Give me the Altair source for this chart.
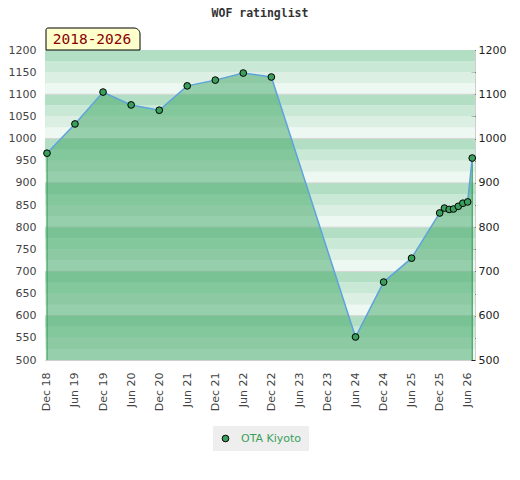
import altair as alt
import pandas as pd

title_text = "WOF ratinglist"
badge_text = "2018-2026"
player = "OTA Kiyoto"

dates = ["2018-12-01", "2019-06-01", "2019-12-01", "2020-06-01", "2020-12-01",
         "2021-06-01", "2021-12-01", "2022-06-01", "2022-12-01", "2024-06-01",
         "2024-12-01", "2025-06-01", "2025-12-01", "2026-01-01", "2026-02-01",
         "2026-03-01", "2026-04-01", "2026-05-01", "2026-06-01", "2026-07-01"]
ratings = [967, 1033, 1105, 1076, 1064, 1119, 1132, 1148, 1139, 552,
           676, 730, 832, 843, 840, 841, 847, 854, 857, 956]

tick_months = [(2018, 12), (2019, 6), (2019, 12), (2020, 6), (2020, 12), (2021, 6),
               (2021, 12), (2022, 6), (2022, 12), (2023, 6), (2023, 12), (2024, 6),
               (2024, 12), (2025, 6), (2025, 12), (2026, 6)]
y_ticks = list(range(500, 1201, 50))
grid_values = [600, 700, 800, 900, 1000, 1100]
y_min, y_max = 500, 1200
stripe_step = 25
stripe_colors = ["#eef8f2", "#dcefe3", "#c9e8d6", "#b2dfc4"]

W, H = 430, 310

df = pd.DataFrame({"date": dates, "rating": ratings, "player": player})
stripes = pd.DataFrame({"lo": list(range(y_min, y_max, stripe_step))})
stripes["hi"] = stripes["lo"] + stripe_step
stripes["band"] = ((stripes["lo"] % 100) // stripe_step).astype(str)

yscale = alt.Scale(domain=[y_min, y_max], nice=False, zero=False)
xscale = alt.Scale(type="utc", domain=[alt.DateTime(year=2018, month=11, date=18, utc=True),
                                       alt.DateTime(year=2026, month=7, date=19, utc=True)])
x_axis = alt.Axis(values=[alt.DateTime(year=y, month=m, date=1, utc=True) for y, m in tick_months],
                  format="%b %y", labelAngle=-90, labelFont="DejaVu Sans", labelFontSize=11,
                  labelColor="#444444", ticks=False, domain=False, grid=False, labelPadding=12,
                  title=None, labelOverlap=False)
X = alt.X("date:T", scale=xscale, axis=x_axis)

bg = alt.Chart(stripes).mark_rect().encode(
    x=alt.value(0), x2=alt.value(W),
    y=alt.Y("lo:Q", scale=yscale, axis=None), y2="hi:Q",
    color=alt.Color("band:N", scale=alt.Scale(domain=["0", "1", "2", "3"], range=stripe_colors), legend=None),
)

grid = alt.Chart(pd.DataFrame({"v": grid_values})).mark_rule(color="#d4d4d4", strokeWidth=1).encode(
    y=alt.Y("v:Q", scale=yscale, axis=None), x=alt.value(0), x2=alt.value(W))

base = alt.Chart(df)

area = base.mark_area(color="#3da563", opacity=0.5).encode(
    x=X, y=alt.Y("rating:Q", scale=yscale, axis=None), y2=alt.datum(y_min))

ends = alt.Chart(df.iloc[[0, -1]]).mark_rule(color="#2e9a52", strokeWidth=1).encode(
    x=X, y=alt.Y("rating:Q", scale=yscale, axis=None), y2=alt.datum(y_min))

line = base.mark_line(color="#5ea3dc", strokeWidth=1.5).encode(
    x=X,
    y=alt.Y("rating:Q", scale=yscale,
            axis=alt.Axis(orient="left", values=y_ticks, format="d", ticks=False, domain=False, grid=False,
                          labelFont="DejaVu Sans", labelFontSize=11, labelColor="#444444",
                          labelPadding=9, title=None)))

points = base.mark_point(filled=True, size=45, stroke="black", strokeWidth=1, opacity=1).encode(
    x=X,
    y=alt.Y("rating:Q", scale=yscale,
            axis=alt.Axis(orient="right", values=y_ticks, format="d", tickSize=4, tickColor="#222222",
                          offset=-4, domain=False, grid=False,
                          labelExpr="datum.value % 100 === 0 ? datum.label : ''",
                          labelFont="DejaVu Sans", labelFontSize=11, labelColor="#222222",
                          labelPadding=3, title=None)),
    color=alt.Color("player:N", scale=alt.Scale(domain=[player], range=["#3a9e5c"]),
                    legend=alt.Legend(orient="none", legendX=168, legendY=376, title=None,
                                      fillColor="#eeeeee", padding=7, labelColor="#3aa05a",
                                      labelFont="DejaVu Sans", labelFontSize=11, labelOffset=10,
                                      symbolType="circle", symbolSize=45,
                                      symbolStrokeColor="black", symbolStrokeWidth=1)),
)

badge_df = pd.DataFrame({"t": [badge_text]})
badge_box = alt.Chart(badge_df).mark_rect(fill="#ffffcc", stroke="black", strokeWidth=1,
                                          cornerRadiusTopRight=6, cornerRadiusTopLeft=2).encode(
    x=alt.value(1), x2=alt.value(95), y=alt.value(-22), y2=alt.value(0))
badge_txt = alt.Chart(badge_df).mark_text(font="DejaVu Sans Mono", fontSize=14.5, color="#8b0000",
                                          align="center", baseline="middle").encode(
    text="t:N", x=alt.value(47), y=alt.value(-10.5))

title_df = pd.DataFrame({"t": [title_text]})
title_mark = alt.Chart(title_df).mark_text(font="DejaVu Sans Mono", fontSize=11.5, fontWeight="bold",
                                           color="#333333", align="center", baseline="alphabetic").encode(
    text="t:N", x=alt.value(W / 2), y=alt.value(-33))

chart = alt.layer(bg, grid, area, ends, line, points, badge_box, badge_txt, title_mark).resolve_scale(
    color="independent").resolve_axis(y="independent").properties(
    width=W, height=H,
    autosize=alt.AutoSizeParams(type="none"),
    padding={"left": 37, "top": 42, "right": 37, "bottom": 110},
).configure_view(stroke="#cfcfcf")

chart.save("out.html", embed_options={"renderer": "svg", "actions": False})
